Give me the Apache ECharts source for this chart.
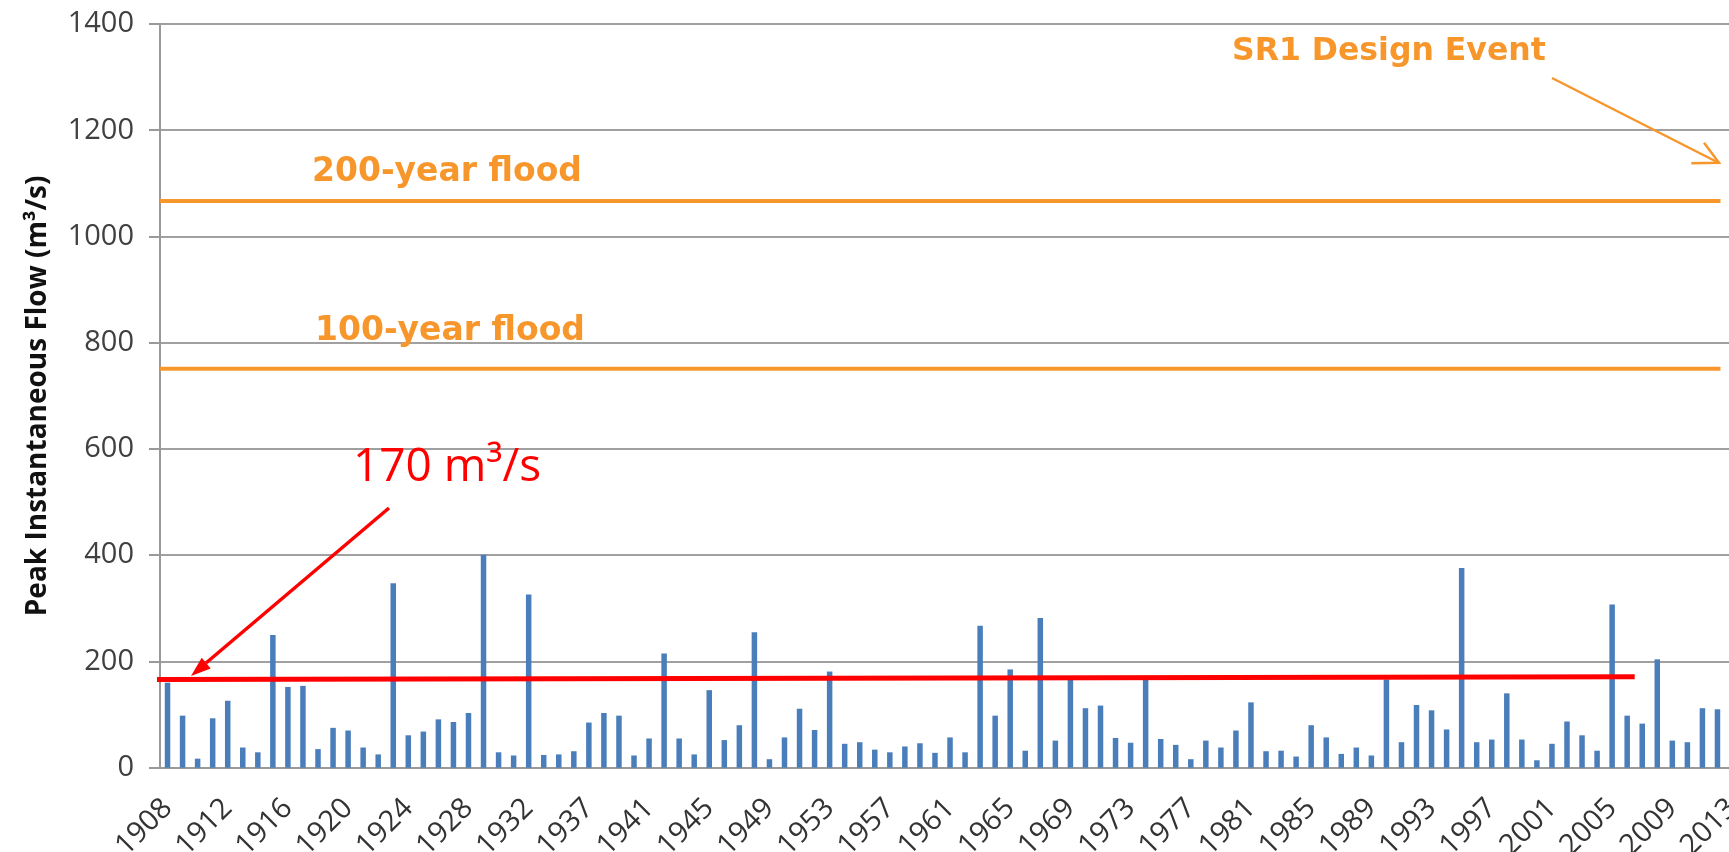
<!DOCTYPE html>
<html>
<head>
<meta charset="utf-8">
<style>
  html, body { margin: 0; padding: 0; background: #fff; }
  #main { width: 1729px; height: 852px; }
</style>
<script src="https://cdn.jsdelivr.net/npm/echarts@6/dist/echarts.min.js"></script>
</head>
<body>
<div id="main"></div>
<script>
// years on the x axis (one year between 1932 and 1937 has no record)
var years = [
  '1908', '1909', '1910', '1911', '1912', '1913', '1914', '1915', '1916', '1917',
  '1918', '1919', '1920', '1921', '1922', '1923', '1924', '1925', '1926', '1927',
  '1928', '1929', '1930', '1931', '1932', '1934', '1935', '1936', '1937', '1938',
  '1939', '1940', '1941', '1942', '1943', '1944', '1945', '1946', '1947', '1948',
  '1949', '1950', '1951', '1952', '1953', '1954', '1955', '1956', '1957', '1958',
  '1959', '1960', '1961', '1962', '1963', '1964', '1965', '1966', '1967', '1968',
  '1969', '1970', '1971', '1972', '1973', '1974', '1975', '1976', '1977', '1978',
  '1979', '1980', '1981', '1982', '1983', '1984', '1985', '1986', '1987', '1988',
  '1989', '1990', '1991', '1992', '1993', '1994', '1995', '1996', '1997', '1998',
  '1999', '2000', '2001', '2002', '2003', '2004', '2005', '2006', '2007', '2008',
  '2009', '2010', '2011', '2012', '2013'
]

// peak instantaneous flow, m3/s (2013 is outside the picture)
var peakFlow = [
  160, 98, 17, 93, 126, 38, 29, 250, 152, 154,
  35, 75, 70, 38, 25, 347, 61, 68, 91, 86,
  103, 401, 29, 23, 326, 24, 25, 31, 85, 103,
  98, 23, 55, 215, 55, 25, 146, 52, 80, 255,
  16, 57, 111, 71, 181, 45, 48, 34, 29, 40,
  46, 28, 57, 29, 267, 98, 185, 32, 282, 51,
  167, 112, 117, 56, 47, 167, 54, 43, 16, 51,
  38, 70, 123, 31, 32, 21, 80, 57, 26, 38,
  23, 166, 48, 118, 108, 72, 376, 48, 53, 140,
  53, 14, 45, 87, 61, 32, 307, 98, 83, 204,
  51, 48, 112, 110, null
]

var floodNames = ['200-year flood', '100-year flood']
var floodValues = [1067, 751]
var thresholdText = '170 m³/s'
var thresholdEnds = [166, 171]  // hand drawn line, a little tilted
var designText = 'SR1 Design Event'

var orange = '#F7962B'
var red = '#FF0000'
var catWidth = 15.048

var chart = echarts.init(document.getElementById('main'))

var floodSeries = floodValues.map(function (v, i) {
  return {
    name: floodNames[i],
    type: 'line',
    xAxisIndex: 1,
    data: [[0, v], [103.7, v]],
    symbol: 'none',
    clip: false,
    silent: true,
    z: 3,
    lineStyle: { color: orange, width: 4 }
  }
})

chart.setOption({
  animation: false,
  grid: {
    left: 160,
    top: 24,
    width: years.length * catWidth,
    height: 743.7,
    containLabel: false,
    outerBoundsMode: 'none'
  },
  xAxis: [{
    type: 'category',
    data: years,
    axisLine: { lineStyle: { color: '#999', width: 2 } },
    axisTick: { interval: 0, length: 11, lineStyle: { color: '#999', width: 2 } },
    axisLabel: {
      interval: 3,
      rotate: 45,
      margin: 36,
      fontFamily: 'Open Sans',
      fontSize: 29,
      color: '#333'
    },
    splitLine: { show: false }
  }, {
    type: 'value',
    min: 0,
    max: years.length,
    show: false
  }],
  yAxis: {
    type: 'value',
    min: 0,
    max: 1400,
    interval: 200,
    name: 'Peak Instantaneous Flow (m³/s)',
    nameLocation: 'middle',
    nameGap: 108,
    nameTextStyle: {
      fontFamily: 'Open Sans',
      fontWeight: 'bold',
      fontSize: 28,
      color: '#111'
    },
    axisLine: { show: true, lineStyle: { color: '#999', width: 2 } },
    axisTick: { show: true, length: 11, lineStyle: { color: '#999', width: 2 } },
    axisLabel: {
      margin: 26,
      fontFamily: 'Open Sans',
      fontSize: 29,
      color: '#404040',
      formatter: function (v) { return String(v) }
    },
    splitLine: { lineStyle: { color: '#a0a0a0', width: 2 } }
  },
  series: [{
    name: 'Peak flow',
    type: 'bar',
    data: peakFlow,
    barWidth: 5.5,
    itemStyle: { color: '#4A7EBB' },
    z: 2
  }].concat(floodSeries, [{
    name: thresholdText,
    type: 'line',
    xAxisIndex: 1,
    data: [[-0.47, thresholdEnds[0]], [98, thresholdEnds[1]]],
    symbol: 'none',
    clip: false,
    silent: true,
    z: 4,
    lineStyle: { color: red, width: 5 }
  }]),
  graphic: [
    {
      type: 'text', x: 312, y: 172, z: 10,
      style: { text: floodNames[0], font: 'bold 33px "DejaVu Sans"', fill: orange, verticalAlign: 'middle' }
    },
    {
      type: 'text', x: 315, y: 331, z: 10,
      style: { text: floodNames[1], font: 'bold 33px "DejaVu Sans"', fill: orange, verticalAlign: 'middle' }
    },
    {
      type: 'text', x: 1232, y: 52, z: 10,
      style: { text: designText, font: 'bold 31.5px "DejaVu Sans"', fill: orange, verticalAlign: 'middle' }
    },
    {
      type: 'line', z: 10,
      shape: { x1: 1552, y1: 78, x2: 1719, y2: 163 },
      style: { stroke: orange, lineWidth: 2.5 }
    },
    {
      type: 'polyline', z: 10,
      shape: { points: [[1704, 142.7], [1719, 162.7], [1691.3, 163.3]] },
      style: { stroke: orange, lineWidth: 2.5, fill: null }
    },
    {
      type: 'text', x: 353, y: 468, z: 10,
      style: { text: thresholdText, font: '46px "Open Sans"', fill: red, verticalAlign: 'middle' }
    },
    {
      type: 'line', z: 10,
      shape: { x1: 389, y1: 508, x2: 206, y2: 663 },
      style: { stroke: red, lineWidth: 3.5 }
    },
    {
      type: 'polygon', z: 10,
      shape: { points: [[191, 676], [210.7, 668.4], [201.7, 657.8]] },
      style: { fill: red }
    }
  ]
})
</script>
</body>
</html>
